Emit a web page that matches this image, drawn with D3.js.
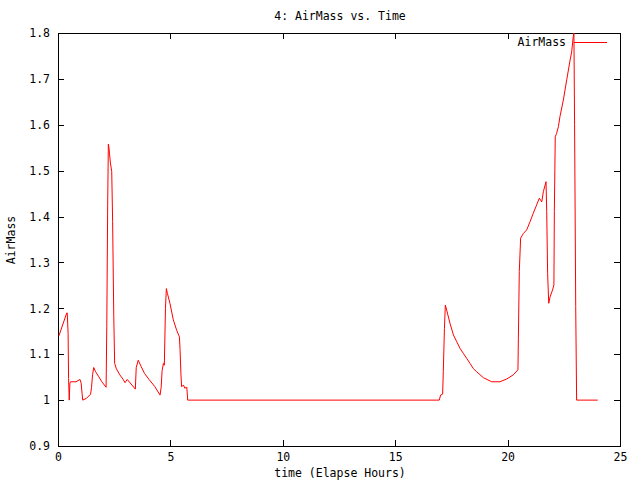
<html>
<head>
	<title>AirMass vs. Time</title>
	<style>
		body { margin:0; padding:0; background:#fff; }
		svg { display:block; }
		text { font-family: "DejaVu Sans Mono", monospace; font-size:11.5px; fill:#000; }
	</style>
</head>
<body>
	<svg width="640" height="480"></svg>
	<script src="https://d3js.org/d3.v7.min.js"></script>
	<script>
		// elapsed hours
		var hours = [0.04, 0.39, 0.41, 0.45, 0.47, 0.50, 0.53, 0.56, 0.80, 0.98, 1.03, 1.07, 1.10, 1.27, 1.45, 1.49, 1.54, 1.59, 1.67, 1.80,
			1.95, 2.14, 2.17, 2.21, 2.24, 2.27, 2.29, 2.33, 2.39, 2.43, 2.48, 2.52, 2.60, 2.75, 2.90, 2.98, 3.08, 3.44, 3.48, 3.57,
			3.70, 3.85, 4.05, 4.30, 4.54, 4.59, 4.63, 4.69, 4.73, 4.78, 4.82, 4.87, 4.98, 5.13, 5.28, 5.40, 5.43, 5.47, 5.50, 5.58,
			5.64, 5.73, 5.77, 16.96, 17.02, 17.11, 17.14, 17.19, 17.23, 17.29, 17.44, 17.59, 17.74, 17.88, 18.03, 18.18, 18.33, 18.47, 18.62, 18.92,
			19.29, 19.66, 19.96, 20.25, 20.46, 20.48, 20.52, 20.58, 20.70, 20.85, 21.00, 21.14, 21.29, 21.41, 21.52, 21.59, 21.71, 21.74, 21.78, 21.83,
			21.89, 22.00, 22.06, 22.08, 22.12, 22.18, 22.26, 22.33, 22.48, 22.63, 22.78, 22.85, 22.92, 22.95, 22.98, 23.03, 23.07, 24.01];
		var airmass = [1.140, 1.190, 1.190, 1.145, 1.047, 1.000, 1.037, 1.040, 1.040, 1.045, 1.037, 1.015, 1.000, 1.004, 1.013, 1.027, 1.056, 1.071, 1.062, 1.052,
			1.040, 1.028, 1.160, 1.425, 1.558, 1.549, 1.538, 1.517, 1.498, 1.389, 1.185, 1.080, 1.068, 1.055, 1.045, 1.038, 1.045, 1.024, 1.071, 1.087,
			1.073, 1.058, 1.045, 1.030, 1.011, 1.028, 1.064, 1.080, 1.076, 1.200, 1.243, 1.232, 1.211, 1.175, 1.152, 1.138, 1.110, 1.055, 1.029, 1.033,
			1.026, 1.028, 1.000, 1.000, 1.011, 1.013, 1.062, 1.156, 1.207, 1.196, 1.167, 1.142, 1.127, 1.113, 1.102, 1.091, 1.080, 1.069, 1.062, 1.049,
			1.040, 1.040, 1.046, 1.055, 1.066, 1.135, 1.280, 1.353, 1.363, 1.371, 1.389, 1.407, 1.425, 1.440, 1.432, 1.454, 1.476, 1.411, 1.276, 1.211,
			1.225, 1.240, 1.251, 1.411, 1.574, 1.581, 1.596, 1.618, 1.654, 1.698, 1.741, 1.759, 1.792, 1.800, 1.600, 1.204, 1.000, 1.000];

		var xTicks = [0, 5, 10, 15, 20, 25];
		var yTicks = [0.9, 1.0, 1.1, 1.2, 1.3, 1.4, 1.5, 1.6, 1.7, 1.8];
		var yTickLabels = ["0.9", "1", "1.1", "1.2", "1.3", "1.4", "1.5", "1.6", "1.7", "1.8"];

		var plotLeft = 58, plotRight = 620, plotTop = 33, plotBottom = 446;

		var x = d3.scaleLinear().domain([0, 25]).range([plotLeft, plotRight]);
		var y = d3.scaleLinear().domain([0.9, 1.8]).range([plotBottom, plotTop]);

		var svg = d3.select("svg");

		// ticks, mirrored on every side, pointing inwards
		var g = svg.append("g").attr("shape-rendering", "crispEdges");
		g.append("g").attr("transform", "translate(0," + plotBottom + ")")
			.call(d3.axisBottom(x).tickValues(xTicks).tickSize(-6).tickPadding(7).tickFormat(d3.format("d")));
		g.append("g").attr("transform", "translate(0," + plotTop + ")")
			.call(d3.axisTop(x).tickValues(xTicks).tickSize(-6).tickFormat(""));
		g.append("g").attr("transform", "translate(" + plotLeft + ",0)")
			.call(d3.axisLeft(y).tickValues(yTicks).tickSize(-6).tickPadding(8).tickFormat(function(d, i) { return yTickLabels[i]; }));
		g.append("g").attr("transform", "translate(" + plotRight + ",0)")
			.call(d3.axisRight(y).tickValues(yTicks).tickSize(-6).tickFormat(""));
		g.selectAll(".domain").remove();
		g.selectAll(".tick text").attr("font-family", null).attr("font-size", null);
		g.selectAll(".tick line").attr("stroke", "#000");

		g.append("rect")
			.attr("x", plotLeft).attr("y", plotTop)
			.attr("width", plotRight - plotLeft).attr("height", plotBottom - plotTop)
			.attr("fill", "none").attr("stroke", "#000");

		var pts = hours.map(function(h, i) { return [h, airmass[i]]; });
		var line = d3.line().x(function(d) { return x(d[0]); }).y(function(d) { return y(d[1]); });

		svg.append("path")
			.datum(pts)
			.attr("d", line)
			.attr("fill", "none")
			.attr("stroke", "#ff0000")
			.attr("stroke-width", 1);

		// legend
		svg.append("text").attr("x", 566).attr("y", 46).attr("text-anchor", "end").text("AirMass");
		svg.append("line").attr("x1", 574).attr("x2", 607).attr("y1", 42.5).attr("y2", 42.5)
			.attr("stroke", "#ff0000").attr("shape-rendering", "crispEdges");

		svg.append("text").attr("x", 340).attr("y", 20).attr("text-anchor", "middle").text("4: AirMass vs. Time");
		svg.append("text").attr("x", 340).attr("y", 477).attr("text-anchor", "middle").text("time (Elapse Hours)");
		svg.append("text").attr("transform", "translate(15,240) rotate(-90)").attr("text-anchor", "middle").text("AirMass");
	</script>
</body>
</html>
